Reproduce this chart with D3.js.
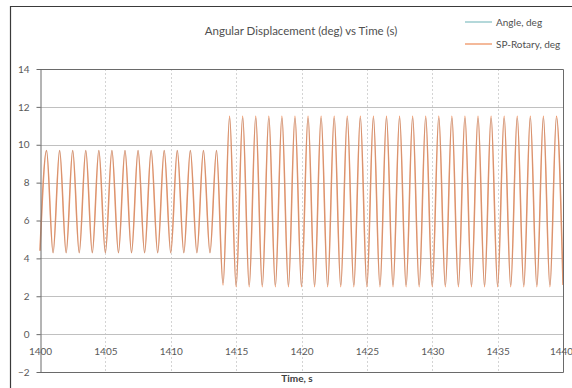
<!DOCTYPE html>
<html>
<head>
<meta charset="utf-8">
<script src="https://cdn.jsdelivr.net/npm/d3@7"></script>
<style>
  body { margin: 0; background: #fff; }
  svg { display: block; font-family: Lato, "Open Sans", sans-serif; }
</style>
</head>
<body>
<div id="chart"></div>
<script>
// x values: time of each peak / trough of the oscillation (s)
const times = [
  1400, 1400.5, 1401, 1401.5, 1402, 1402.5, 1403, 1403.5, 1404, 1404.5,
  1405, 1405.5, 1406, 1406.5, 1407, 1407.5, 1408, 1408.5, 1409, 1409.5,
  1410, 1410.5, 1411, 1411.5, 1412, 1412.5, 1413, 1413.5, 1414, 1414.5,
  1415, 1415.5, 1416, 1416.5, 1417, 1417.5, 1418, 1418.5, 1419, 1419.5,
  1420, 1420.5, 1421, 1421.5, 1422, 1422.5, 1423, 1423.5, 1424, 1424.5,
  1425, 1425.5, 1426, 1426.5, 1427, 1427.5, 1428, 1428.5, 1429, 1429.5,
  1430, 1430.5, 1431, 1431.5, 1432, 1432.5, 1433, 1433.5, 1434, 1434.5,
  1435, 1435.5, 1436, 1436.5, 1437, 1437.5, 1438, 1438.5, 1439, 1439.5,
  1440
];

// SP-Rotary, deg (setpoint)
const spRotary = [
  4.4, 9.7, 4.3, 9.7, 4.3, 9.7, 4.3, 9.7, 4.3, 9.7,
  4.3, 9.7, 4.3, 9.7, 4.3, 9.7, 4.3, 9.7, 4.3, 9.7,
  4.3, 9.7, 4.3, 9.7, 4.3, 9.7, 4.3, 9.7, 2.6, 11.5,
  2.5, 11.5, 2.5, 11.5, 2.5, 11.5, 2.5, 11.5, 2.5, 11.5,
  2.5, 11.5, 2.5, 11.5, 2.5, 11.5, 2.5, 11.5, 2.5, 11.5,
  2.5, 11.5, 2.5, 11.5, 2.5, 11.5, 2.5, 11.5, 2.5, 11.5,
  2.5, 11.5, 2.5, 11.5, 2.5, 11.5, 2.5, 11.5, 2.5, 11.5,
  2.5, 11.5, 2.5, 11.5, 2.5, 11.5, 2.5, 11.5, 2.5, 11.5,
  2.6
];

// Angle, deg (measured) - nearly on top of the setpoint
const angle = [
  4.4, 9.7, 4.3, 9.7, 4.3, 9.7, 4.3, 9.7, 4.3, 9.7,
  4.3, 9.7, 4.3, 9.7, 4.3, 9.7, 4.3, 9.7, 4.3, 9.7,
  4.3, 9.7, 4.3, 9.7, 4.3, 9.7, 4.3, 9.7, 2.7, 11.4,
  2.6, 11.4, 2.6, 11.4, 2.6, 11.4, 2.6, 11.4, 2.6, 11.4,
  2.6, 11.4, 2.6, 11.4, 2.6, 11.4, 2.6, 11.4, 2.6, 11.4,
  2.6, 11.4, 2.6, 11.4, 2.6, 11.4, 2.6, 11.4, 2.6, 11.4,
  2.6, 11.4, 2.6, 11.4, 2.6, 11.4, 2.6, 11.4, 2.6, 11.4,
  2.6, 11.4, 2.6, 11.4, 2.6, 11.4, 2.6, 11.4, 2.6, 11.4,
  2.7
];

const xTicks = [1400, 1405, 1410, 1415, 1420, 1425, 1430, 1435, 1440];
const yTicks = [-2, 0, 2, 4, 6, 8, 10, 12, 14];

const seriesNames = ["Angle, deg", "SP-Rotary, deg"];
const seriesColors = ["#8cc3c6", "#ef9464"];

const W = 572, H = 388;
const plot = {left: 40, right: 563, top: 69, bottom: 372};

const svg = d3.select("#chart").append("svg")
    .attr("width", W)
    .attr("height", H);

// outer chart frame (cropped on the right and bottom)
svg.append("path")
    .attr("d", "M10.5," + H + "V6.5H" + W)
    .attr("fill", "none")
    .attr("stroke", "#3a3a3a")
    .attr("stroke-width", 1.2);

const x = d3.scaleLinear().domain([1400, 1440]).range([plot.left, plot.right]);
const y = d3.scaleLinear().domain([-2, 14]).range([plot.bottom, plot.top]);

// vertical grid lines
svg.append("g")
  .selectAll("line")
  .data(xTicks.slice(1, -1))
  .enter().append("line")
    .attr("x1", d => Math.round(x(d)) + 0.5)
    .attr("x2", d => Math.round(x(d)) + 0.5)
    .attr("y1", plot.top)
    .attr("y2", plot.bottom)
    .attr("stroke", "#d4d4d4")
    .attr("stroke-dasharray", "2,2");

// horizontal grid lines
svg.append("g")
  .selectAll("line")
  .data(yTicks.slice(1, -1))
  .enter().append("line")
    .attr("x1", plot.left)
    .attr("x2", plot.right)
    .attr("y1", d => Math.round(y(d)) + 0.5)
    .attr("y2", d => Math.round(y(d)) + 0.5)
    .attr("stroke", "#c0c0c0");

// series
const line = d3.line()
    .x((d, i) => x(times[i]))
    .y(d => y(d))
    .curve(d3.curveMonotoneX);

svg.append("path")
    .datum(spRotary)
    .attr("fill", "none")
    .attr("stroke", seriesColors[1])
    .attr("stroke-width", 1.5)
    .attr("d", line);

svg.append("path")
    .datum(angle)
    .attr("fill", "none")
    .attr("stroke", "#8a8f9a")
    .attr("stroke-opacity", 0.35)
    .attr("stroke-width", 0.7)
    .attr("d", line);

// plot frame (top, right, bottom)
svg.append("path")
    .attr("d", "M" + plot.left + "," + (plot.top + 0.5) + "H" + (plot.right + 0.5) +
               "V" + (plot.bottom + 0.5) + "H" + plot.left)
    .attr("fill", "none")
    .attr("stroke", "#6a6a6a");

// y axis
const yAxis = svg.append("g")
    .attr("transform", "translate(" + (plot.left + 0.5) + ",0)")
    .call(d3.axisLeft(y).tickValues(yTicks).tickSize(4).tickPadding(7).tickSizeOuter(0));
yAxis.select(".domain").attr("stroke", "#6a6a6a");
yAxis.selectAll(".tick line").attr("stroke", "#6a6a6a");
yAxis.selectAll("text")
    .attr("fill", "#595959")
    .style("font-family", "Lato, sans-serif")
    .style("font-size", "10px");

// x axis labels sit below the zero line
const xAxis = svg.append("g")
    .attr("transform", "translate(0," + y(0) + ")")
    .call(d3.axisBottom(x).tickValues(xTicks).tickFormat(d3.format("d")).tickSize(0).tickPadding(14));
xAxis.select(".domain").remove();
xAxis.selectAll("text")
    .attr("fill", "#595959")
    .style("font-family", "Lato, sans-serif")
    .style("font-size", "10px");
// last label sits against the right edge of the picture
xAxis.selectAll(".tick").filter(d => d === 1440).select("text").attr("dx", -2);

// axis title
svg.append("text")
    .attr("x", 297)
    .attr("y", 382)
    .attr("text-anchor", "middle")
    .attr("fill", "#404040")
    .style("font-size", "10px")
    .style("font-weight", "bold")
    .text("Time, s");

// chart title
svg.append("text")
    .attr("x", 301)
    .attr("y", 35)
    .attr("text-anchor", "middle")
    .attr("fill", "#505050")
    .style("font-size", "11.5px")
    .text("Angular Displacement (deg) vs Time (s)");

// legend
const legend = svg.append("g");
seriesNames.forEach((name, k) => {
  const ly = 22 + k * 22;
  legend.append("line")
      .attr("x1", 465).attr("x2", 492)
      .attr("y1", ly).attr("y2", ly)
      .attr("stroke", seriesColors[k])
      .attr("stroke-width", 1.3);
  legend.append("text")
      .attr("x", 496)
      .attr("y", ly + 3.5)
      .attr("fill", "#505050")
      .style("font-size", "10px")
      .text(name);
});
</script>
</body>
</html>
